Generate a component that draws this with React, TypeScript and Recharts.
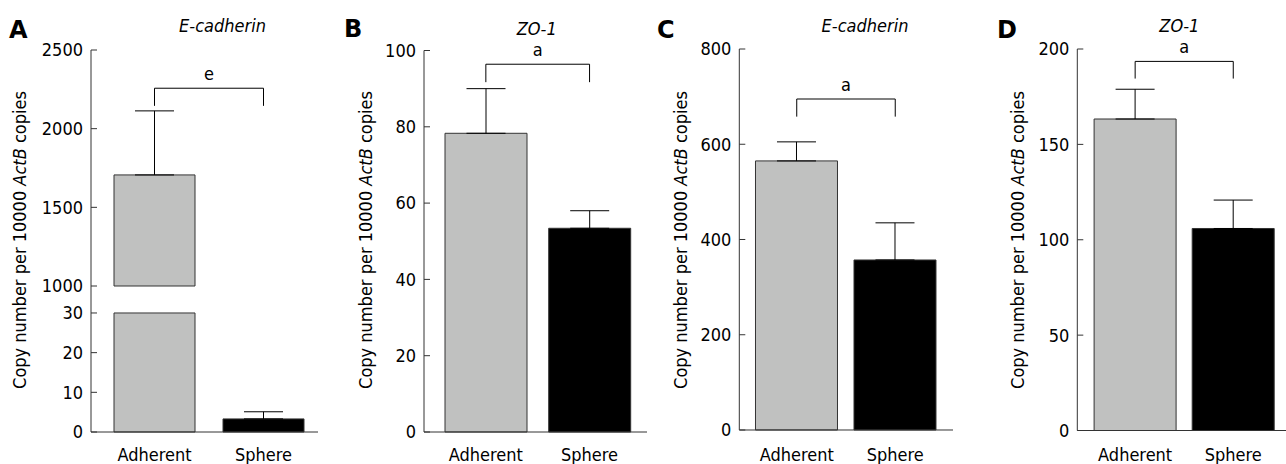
import { Bar, BarChart, Cell, ErrorBar, ReferenceLine, XAxis, YAxis } from 'recharts'

const categories = ['Adherent', 'Sphere']

// A: E-cadherin, broken y axis (0-30 | 1000-2500)
const eCadherinA = [1706, 3.3]
const eCadherinAErr = [407, 1.8]
// B: ZO-1
const zo1B = [78.3, 53.4]
const zo1BErr = [11.7, 4.6]
// C: E-cadherin
const eCadherinC = [565, 357]
const eCadherinCErr = [40, 78]
// D: ZO-1
const zo1D = [163.3, 105.9]
const zo1DErr = [15.6, 14.9]

const ticksALow = [0, 10, 20, 30]
const ticksAHigh = [1000, 1500, 2000, 2500]
const ticksB = [0, 20, 40, 60, 80, 100]
const ticksC = [0, 200, 400, 600, 800]
const ticksD = [0, 50, 100, 150, 200]

const barFills = ['#c0c1c0', '#000000']
const FONT = '"DejaVu Sans Condensed", "DejaVu Sans", sans-serif'
const AXIS = '#333'

type Row = { name: string; value: number | null; err: [number, number] | null }

const rows = (values: Array<number | null>, errs: Array<number | null>): Row[] =>
  categories.map((name, i) => ({
    name,
    value: values[i],
    err: errs[i] == null ? null : [0, errs[i] as number],
  }))

// broken axis: the low segment shows values capped at 30, the high one only values above 1000
const BREAK_LOW = 30
const BREAK_HIGH = 1000
const dataALow = rows(
  eCadherinA.map((v) => Math.min(v, BREAK_LOW)),
  eCadherinA.map((v, i) => (v <= BREAK_LOW ? eCadherinAErr[i] : null)),
)
const dataAHigh = rows(
  eCadherinA.map((v) => (v >= BREAK_HIGH ? v : null)),
  eCadherinA.map((v, i) => (v >= BREAK_HIGH ? eCadherinAErr[i] : null)),
)
const dataB = rows(zo1B, zo1BErr)
const dataC = rows(eCadherinC, eCadherinCErr)
const dataD = rows(zo1D, zo1DErr)

interface Bracket {
  top: number
  leg: number
  mark: string
}

interface PanelProps {
  left: number
  right: number
  height: number
  axisX: number
  plotTop: number
  plotBottom: number
  padL: number
  padR: number
  barSize: number
  domain: [number, number]
  ticks: number[]
  data: Row[]
  showX: boolean
  bracket?: Bracket
}

function Panel({
  left,
  right,
  height,
  axisX,
  plotTop,
  plotBottom,
  padL,
  padR,
  barSize,
  domain,
  ticks,
  data,
  showX,
  bracket,
}: PanelProps) {
  const xHeight = 32
  return (
    <div style={{ position: 'absolute', left, top: 0 }}>
      <BarChart
        width={right - left}
        height={height}
        data={data}
        barGap={0}
        margin={{
          top: plotTop,
          right: 0,
          bottom: height - plotBottom - (showX ? xHeight : 0),
          left: 0,
        }}
      >
        <XAxis
          dataKey="name"
          hide={!showX}
          height={xHeight}
          padding={{ left: padL, right: padR }}
          axisLine={{ stroke: AXIS }}
          tickLine={false}
          tickSize={0}
          tickMargin={plotBottom > 431 ? 16 : 18}
          tick={{ fontSize: 18, fill: '#000' }}
        />
        <YAxis
          type="number"
          width={axisX - left}
          domain={domain}
          ticks={ticks}
          interval={0}
          axisLine={{ stroke: AXIS }}
          tickLine={{ stroke: AXIS }}
          tickSize={-6}
          tickMargin={14}
          tick={{ fontSize: 18, fill: '#000' }}
        />
        <Bar dataKey="value" barSize={barSize} stroke={AXIS} isAnimationActive={false}>
          {data.map((d, i) => (
            <Cell key={d.name} fill={barFills[i]} />
          ))}
          <ErrorBar
            dataKey="err"
            direction="y"
            width={19.5}
            stroke="#000"
            strokeWidth={1}
            isAnimationActive={false}
          />
        </Bar>
        {bracket && (
          <ReferenceLine
            segment={[
              { x: categories[0], y: bracket.top },
              { x: categories[1], y: bracket.top },
            ]}
            stroke="#000"
            label={{ value: bracket.mark, position: 'top', offset: 8, fontSize: 18, fill: '#000' }}
          />
        )}
        {bracket &&
          categories.map((c) => (
            <ReferenceLine
              key={c}
              segment={[
                { x: c, y: bracket.top },
                { x: c, y: bracket.leg },
              ]}
              stroke="#000"
            />
          ))}
      </BarChart>
    </div>
  )
}

const panelLetters = [
  { text: 'A', x: 9, y: 38 },
  { text: 'B', x: 344, y: 37 },
  { text: 'C', x: 657, y: 38 },
  { text: 'D', x: 997, y: 38 },
]
const titles = [
  { text: 'E-cadherin', x: 222.5, y: 32 },
  { text: 'ZO-1', x: 536.7, y: 35 },
  { text: 'E-cadherin', x: 865, y: 32 },
  { text: 'ZO-1', x: 1179.3, y: 32 },
]
const yLabelX = [26, 371.5, 687, 1024]

export default function App() {
  return (
    <div
      style={{
        position: 'absolute',
        left: 0,
        top: 0,
        width: 1286,
        height: 464,
        background: '#fff',
        fontFamily: FONT,
        overflow: 'hidden',
      }}
    >
      <Panel
        left={0}
        right={318}
        height={464}
        axisX={91}
        plotTop={286}
        plotBottom={432}
        padL={9}
        padR={0}
        barSize={81}
        domain={[0, 36.8]}
        ticks={ticksALow}
        data={dataALow}
        showX
      />
      <Panel
        left={0}
        right={318}
        height={300}
        axisX={91}
        plotTop={50}
        plotBottom={286}
        padL={9}
        padR={0}
        barSize={81}
        domain={[1000, 2500]}
        ticks={ticksAHigh}
        data={dataAHigh}
        showX={false}
        bracket={{ top: 2257, leg: 2145, mark: 'e' }}
      />
      <Panel
        left={330}
        right={647}
        height={464}
        axisX={424}
        plotTop={50.5}
        plotBottom={432}
        padL={10}
        padR={5.6}
        barSize={82}
        domain={[0, 100]}
        ticks={ticksB}
        data={dataB}
        showX
        bracket={{ top: 96.4, leg: 91.7, mark: 'a' }}
      />
      <Panel
        left={650}
        right={953.3}
        height={464}
        axisX={739.3}
        plotTop={49}
        plotBottom={430}
        padL={8.2}
        padR={8.8}
        barSize={82}
        domain={[0, 800]}
        ticks={ticksC}
        data={dataC}
        showX
        bracket={{ top: 695, leg: 658, mark: 'a' }}
      />
      <Panel
        left={966}
        right={1286}
        height={464}
        axisX={1077.3}
        plotTop={49}
        plotBottom={430.5}
        padL={8.8}
        padR={3.7}
        barSize={82}
        domain={[0, 200]}
        ticks={ticksD}
        data={dataD}
        showX
        bracket={{ top: 193.5, leg: 184.5, mark: 'a' }}
      />
      <svg
        width={1286}
        height={464}
        style={{ position: 'absolute', left: 0, top: 0, pointerEvents: 'none' }}
      >
        {panelLetters.map((l) => (
          <text key={l.text} x={l.x} y={l.y} fontSize={24} fontWeight="bold" fill="#000" fontFamily='"DejaVu Sans", sans-serif'>
            {l.text}
          </text>
        ))}
        {titles.map((t) => (
          <text key={t.x} x={t.x} y={t.y} fontSize={18} fontStyle="italic" textAnchor="middle" fill="#000">
            {t.text}
          </text>
        ))}
        {yLabelX.map((x) => (
          <text
            key={x}
            x={x}
            y={240}
            fontSize={18}
            textAnchor="middle"
            fill="#000"
            transform={`rotate(-90, ${x}, 240)`}
          >
            Copy number per 10000 <tspan fontStyle="italic">ActB</tspan> copies
          </text>
        ))}
      </svg>
    </div>
  )
}
